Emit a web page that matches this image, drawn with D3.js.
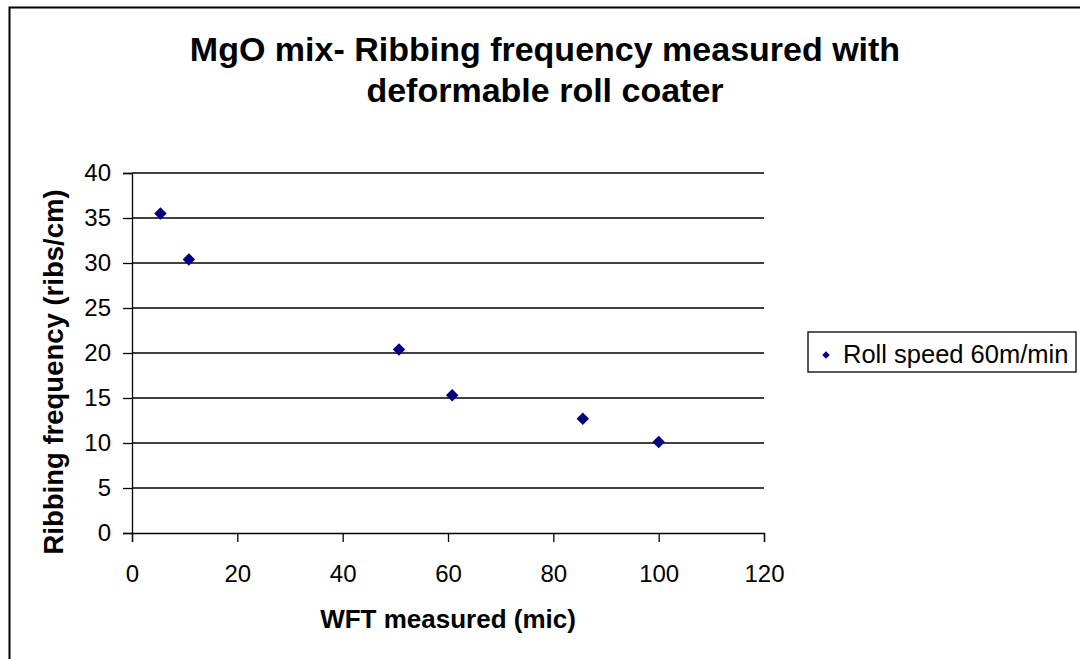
<!DOCTYPE html>
<html>
<head>
<meta charset="utf-8">
<script src="https://cdn.jsdelivr.net/npm/d3@7"></script>
<style>
  html, body { margin: 0; padding: 0; background: #fff; }
  svg { display: block; font-family: Arial, "Liberation Sans", sans-serif; }
</style>
</head>
<body>
<svg id="chart" width="1080" height="659"></svg>
<script>
// Wet film thickness (mic) vs ribbing frequency (ribs/cm)
const wftValues = [5.4, 10.8, 50.7, 60.8, 85.6, 100];
const ribValues = [35.5, 30.4, 20.4, 15.3, 12.7, 10.1];
const xTicks = [0, 20, 40, 60, 80, 100, 120];
const yTicks = [0, 5, 10, 15, 20, 25, 30, 35, 40];
const titleLines = ["MgO mix- Ribbing frequency measured with", "deformable roll coater"];
const seriesName = "Roll speed 60m/min";
const xTitle = "WFT measured (mic)";
const yTitle = "Ribbing frequency (ribs/cm)";

const svg = d3.select("#chart");
const plot = { left: 132, right: 764, top: 173, bottom: 533 };
const navy = "#000080";
const fontStack = "Arial, 'Liberation Sans', sans-serif";

// outer chart frame
svg.append("rect")
  .attr("x", 9.5).attr("y", 7.5)
  .attr("width", 1200).attr("height", 800)
  .attr("fill", "#fff").attr("stroke", "#000").attr("stroke-width", 2);

const x = d3.scaleLinear().domain([0, 120]).range([plot.left, plot.right]);
const y = d3.scaleLinear().domain([0, 40]).range([plot.bottom, plot.top]);

// horizontal gridlines
svg.append("g")
  .selectAll("line")
  .data(yTicks.filter(d => d > 0))
  .join("line")
  .attr("x1", plot.left).attr("x2", plot.right)
  .attr("y1", d => y(d)).attr("y2", d => y(d))
  .attr("stroke", "#000").attr("stroke-width", 1.3);

// y axis
const yAxis = svg.append("g")
  .attr("transform", `translate(${plot.left},0)`)
  .call(d3.axisLeft(y).tickValues(yTicks).tickSize(9).tickPadding(12).tickFormat(d3.format("d")));
yAxis.select(".domain").attr("stroke", "#000").attr("stroke-width", 1.3);
yAxis.selectAll(".tick line").attr("stroke", "#000").attr("stroke-width", 1.3);
yAxis.selectAll(".tick text")
  .attr("font-size", 24).attr("fill", "#000")
  .attr("font-family", fontStack);

// x axis
const xAxis = svg.append("g")
  .attr("transform", `translate(0,${plot.bottom})`)
  .call(d3.axisBottom(x).tickValues(xTicks).tickSize(9).tickPadding(23).tickFormat(d3.format("d")));
xAxis.select(".domain").attr("stroke", "#000").attr("stroke-width", 1.3);
xAxis.selectAll(".tick line").attr("stroke", "#000").attr("stroke-width", 1.3);
xAxis.selectAll(".tick text")
  .attr("font-size", 24).attr("fill", "#000")
  .attr("font-family", fontStack);

// data markers (diamonds)
const diamond = d3.symbol().type(d3.symbolDiamond2).size(100);
svg.append("g")
  .selectAll("path")
  .data(wftValues.map((w, i) => [w, ribValues[i]]))
  .join("path")
  .attr("d", diamond)
  .attr("transform", d => `translate(${x(d[0])},${y(d[1])})`)
  .attr("fill", navy);

// title
svg.append("text")
  .attr("text-anchor", "middle")
  .attr("font-size", 34).attr("font-weight", "bold")
  .selectAll("tspan")
  .data(titleLines)
  .join("tspan")
  .attr("x", 545)
  .attr("y", (d, i) => 61 + i * 41)
  .text(d => d);

// axis titles
svg.append("text")
  .attr("x", (plot.left + plot.right) / 2).attr("y", 628)
  .attr("text-anchor", "middle")
  .attr("font-size", 26).attr("font-weight", "bold")
  .text(xTitle);

svg.append("text")
  .attr("transform", "translate(63,372) rotate(-90)")
  .attr("text-anchor", "middle")
  .attr("font-size", 27.5).attr("font-weight", "bold")
  .text(yTitle);

// legend
const legend = svg.append("g");
legend.append("rect")
  .attr("x", 808).attr("y", 332)
  .attr("width", 268).attr("height", 40)
  .attr("fill", "#fff").attr("stroke", "#000").attr("stroke-width", 1.3);
legend.append("path")
  .attr("d", d3.symbol().type(d3.symbolDiamond2).size(36))
  .attr("transform", "translate(826,355)")
  .attr("fill", navy);
legend.append("text")
  .attr("x", 843).attr("y", 363)
  .attr("font-size", 25.5)
  .text(seriesName);
</script>
</body>
</html>
